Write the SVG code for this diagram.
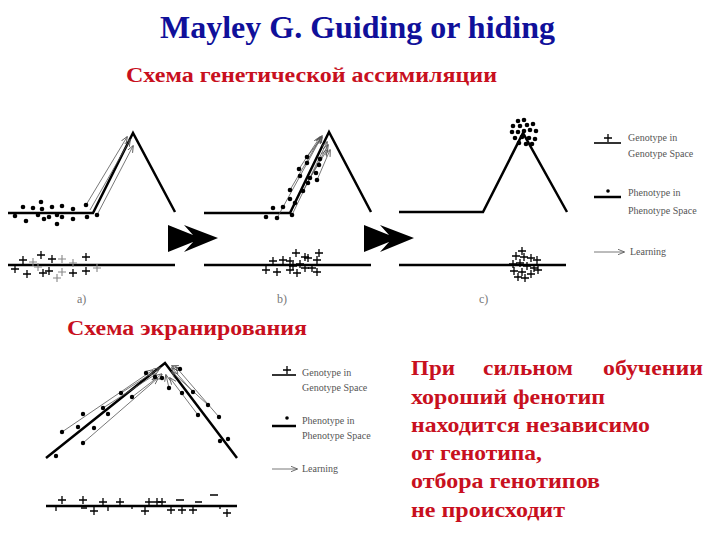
<svg xmlns="http://www.w3.org/2000/svg" width="720" height="540" viewBox="0 0 720 540">
<style>
.ttl{font-family:"Liberation Serif","Times New Roman",serif;font-weight:bold;fill:#10109a}
.red{font-family:"Liberation Serif","Times New Roman",serif;font-weight:bold;fill:#c8101e}
.lg{font-family:"Liberation Serif","Times New Roman",serif;font-size:10px;fill:#555}
.lbl{font-family:"Liberation Serif","Times New Roman",serif;font-size:12px;fill:#777}
.ln{stroke:#000;stroke-width:2.5;fill:none}
.tn{stroke:#000;stroke-width:1.6;fill:none}
.ar{stroke:#555;stroke-width:0.8;fill:none;marker-end:url(#ah)}
.pl{stroke:#000;stroke-width:1.3;fill:none}
.plg{stroke:#888;stroke-width:1.1;fill:none}
.dt{fill:#000}
</style>
<defs>
<marker id="ah" viewBox="0 0 10 10" refX="9" refY="5" markerWidth="7" markerHeight="7" markerUnits="userSpaceOnUse" orient="auto">
<path d="M0,1 L10,5 L0,9" fill="none" stroke="#555" stroke-width="1.2"/>
</marker>
<path id="p" d="M-4,0 H4 M0,-4 V4"/>
<polygon id="ff" points="0,0 25,10 16,0 50,13 16,27 25,17 0,27"/>
</defs>
<rect width="720" height="540" fill="#fff"/>

<g id="title"><text class="ttl" x="160" y="38" font-size="31" textLength="395" lengthAdjust="spacingAndGlyphs">Mayley G. Guiding or hiding</text></g>
<g id="heading1"><text class="red" x="126" y="82" font-size="20" textLength="371" lengthAdjust="spacingAndGlyphs">Схема генетической ассимиляции</text></g>
<g id="heading2"><text class="red" x="67" y="335" font-size="20" textLength="240" lengthAdjust="spacingAndGlyphs">Схема экранирования</text></g>

<g id="panel-a">
<path class="ln" d="M8,213 H93 L133,133 L175,212"/>
<path class="ln" d="M8,265 H175"/>
<path class="ar" d="M86,205 L127,137"/>
<path class="ar" d="M97,215 L133,146"/>
<path class="ar" d="M90,210 L130,140"/>
<g class="dt">
<circle cx="23" cy="207" r="2.3"/><circle cx="33" cy="208" r="2.3"/><circle cx="41" cy="202" r="2.3"/><circle cx="42" cy="209" r="2.3"/><circle cx="52" cy="207" r="2.3"/><circle cx="62" cy="206" r="2.3"/><circle cx="73" cy="209" r="2.3"/><circle cx="86" cy="205" r="2.3"/><circle cx="15" cy="216" r="2.3"/><circle cx="26" cy="221" r="2.3"/><circle cx="38" cy="215" r="2.3"/><circle cx="44" cy="219" r="2.3"/><circle cx="49" cy="217" r="2.3"/><circle cx="57" cy="215" r="2.3"/><circle cx="62" cy="217" r="2.3"/><circle cx="57" cy="224" r="2.3"/><circle cx="73" cy="219" r="2.3"/><circle cx="87" cy="217" r="2.3"/><circle cx="97" cy="215" r="2.3"/>
</g>
<g class="pl">
<use href="#p" x="23" y="260"/><use href="#p" x="41" y="255"/><use href="#p" x="52" y="259"/><use href="#p" x="86" y="257"/><use href="#p" x="15" y="269"/><use href="#p" x="27" y="274"/><use href="#p" x="49" y="271"/><use href="#p" x="43" y="273"/><use href="#p" x="73" y="273"/><use href="#p" x="86" y="271"/>
</g>
<g class="plg">
<use href="#p" x="33" y="262"/><use href="#p" x="62" y="259"/><use href="#p" x="73" y="263"/><use href="#p" x="38" y="267"/><use href="#p" x="57" y="278"/><use href="#p" x="62" y="272"/><use href="#p" x="97" y="268"/>
</g>
<text class="lbl" x="77" y="303">a)</text>
</g>

<g id="arrow-ab"><use href="#ff" x="168" y="225"/></g>

<g id="panel-b">
<path class="ln" d="M204,213 H290 L329,132 L371,212"/>
<path class="ln" d="M204,265 H371"/>
<path class="ar" d="M277,218 L322,136"/>
<path class="ar" d="M292,215 L327,142"/>
<path class="ar" d="M290,190 L321,137"/>
<path class="ar" d="M303,191 L328,145"/>
<path class="ar" d="M299,169 L320,137"/>
<path class="ar" d="M310,178 L327,150"/>
<path class="ar" d="M307,157 L322,137"/>
<path class="ar" d="M317,180 L330,150"/>
<g class="dt">
<circle cx="273" cy="208" r="2.3"/><circle cx="283" cy="207" r="2.3"/><circle cx="266" cy="217" r="2.3"/><circle cx="277" cy="218" r="2.3"/><circle cx="292" cy="215" r="2.3"/><circle cx="290" cy="199" r="2.3"/><circle cx="290" cy="190" r="2.3"/><circle cx="295" cy="203" r="2.3"/><circle cx="299" cy="169" r="2.3"/><circle cx="303" cy="191" r="2.3"/><circle cx="300" cy="176" r="2.3"/><circle cx="308" cy="183" r="2.3"/><circle cx="307" cy="163" r="2.3"/><circle cx="310" cy="178" r="2.3"/><circle cx="316" cy="173" r="2.3"/><circle cx="317" cy="180" r="2.3"/><circle cx="307" cy="157" r="2.3"/><circle cx="320" cy="159" r="2.3"/><circle cx="319" cy="165" r="2.3"/>
</g>
<g class="pl">
<use href="#p" x="273" y="261"/><use href="#p" x="283" y="260"/><use href="#p" x="290" y="261"/><use href="#p" x="296" y="253"/><use href="#p" x="305" y="257"/><use href="#p" x="308" y="258"/><use href="#p" x="319" y="253"/><use href="#p" x="317" y="260"/><use href="#p" x="266" y="270"/><use href="#p" x="277" y="272"/><use href="#p" x="290" y="270"/><use href="#p" x="297" y="273"/><use href="#p" x="305" y="268"/><use href="#p" x="312" y="268"/><use href="#p" x="317" y="272"/><use href="#p" x="300" y="264"/><use href="#p" x="293" y="266"/>
</g>
<text class="lbl" x="277" y="303">b)</text>
</g>

<g id="arrow-bc"><use href="#ff" x="364" y="225"/></g>

<g id="panel-c">
<path class="ln" d="M399,212 H483 L523,133 L567,212"/>
<path class="ln" d="M399,265 H566"/>
<g class="dt">
<circle cx="518" cy="121" r="2.3"/><circle cx="524" cy="120" r="2.3"/><circle cx="513" cy="126" r="2.3"/><circle cx="520" cy="126" r="2.3"/><circle cx="527" cy="125" r="2.3"/><circle cx="533" cy="124" r="2.3"/><circle cx="512" cy="132" r="2.3"/><circle cx="518" cy="132" r="2.3"/><circle cx="524" cy="131" r="2.3"/><circle cx="530" cy="130" r="2.3"/><circle cx="536" cy="131" r="2.3"/><circle cx="515" cy="138" r="2.3"/><circle cx="522" cy="137" r="2.3"/><circle cx="529" cy="138" r="2.3"/><circle cx="535" cy="139" r="2.3"/><circle cx="519" cy="143" r="2.3"/><circle cx="526" cy="144" r="2.3"/><circle cx="532" cy="144" r="2.3"/>
</g>
<g class="pl">
<use href="#p" x="522" y="251"/><use href="#p" x="516" y="256"/><use href="#p" x="524" y="257"/><use href="#p" x="531" y="258"/><use href="#p" x="537" y="260"/><use href="#p" x="513" y="264"/><use href="#p" x="520" y="263"/><use href="#p" x="527" y="266"/><use href="#p" x="534" y="268"/><use href="#p" x="514" y="271"/><use href="#p" x="522" y="272"/><use href="#p" x="531" y="274"/><use href="#p" x="518" y="277"/><use href="#p" x="525" y="278"/><use href="#p" x="538" y="270"/>
</g>
<text class="lbl" x="479" y="303">c)</text>
</g>

<g id="legend-top">
<path class="tn" d="M594,143 H621"/><use href="#p" x="608" y="138" class="pl"/>
<text class="lg" x="628" y="141">Genotype in</text>
<text class="lg" x="628" y="157">Genotype Space</text>
<path class="ln" d="M594,197 H621"/><circle cx="608" cy="191" r="1.8" class="dt"/>
<text class="lg" x="628" y="196">Phenotype in</text>
<text class="lg" x="628" y="214">Phenotype Space</text>
<path class="ar" d="M594,252 H624"/>
<text class="lg" x="630" y="255">Learning</text>
</g>

<g id="panel-hiding">
<path class="ln" d="M46,458 L165,363 L237,458"/>
<path class="ln" d="M46,506 H237" stroke-width="3"/>
<path class="ar" d="M62,432 L153,370"/>
<path class="ar" d="M83,443 L158,378"/>
<path class="ar" d="M103,408 L156,374"/>
<path class="ar" d="M121,393 L160,368"/>
<path class="ar" d="M132,397 L162,374"/>
<path class="ar" d="M180,369 L172,366"/>
<path class="ar" d="M193,392 L172,368"/>
<path class="ar" d="M198,415 L170,378"/>
<path class="ar" d="M219,417 L176,367"/>
<path class="ar" d="M208,405 L172,372"/>
<path class="ar" d="M169,388 L166,375"/>
<g class="dt">
<circle cx="62" cy="432" r="2.2"/><circle cx="83" cy="414" r="2.2"/><circle cx="78" cy="427" r="2.2"/><circle cx="94" cy="428" r="2.2"/><circle cx="83" cy="443" r="2.2"/><circle cx="103" cy="408" r="2.2"/><circle cx="108" cy="414" r="2.2"/><circle cx="121" cy="393" r="2.2"/><circle cx="132" cy="397" r="2.2"/><circle cx="146" cy="373" r="2.2"/><circle cx="155" cy="377" r="2.2"/><circle cx="56" cy="456" r="2.2"/><circle cx="180" cy="369" r="2.2"/><circle cx="162" cy="378" r="2.2"/><circle cx="169" cy="388" r="2.2"/><circle cx="193" cy="392" r="2.2"/><circle cx="182" cy="393" r="2.2"/><circle cx="208" cy="405" r="2.2"/><circle cx="198" cy="415" r="2.2"/><circle cx="219" cy="417" r="2.2"/><circle cx="220" cy="441" r="2.2"/><circle cx="228" cy="439" r="2.2"/>
</g>
<g class="pl">
<use href="#p" x="62" y="500"/><use href="#p" x="83" y="500"/><use href="#p" x="103" y="502"/><use href="#p" x="120" y="502"/><use href="#p" x="149" y="502"/><use href="#p" x="157" y="502"/><use href="#p" x="162" y="502"/><use href="#p" x="94" y="511"/><use href="#p" x="145" y="511"/><use href="#p" x="227" y="513"/><use href="#p" x="171" y="510"/><use href="#p" x="182" y="510"/><use href="#p" x="193" y="510"/>
<path d="M56,506 V511 M108,506 V511 M132,506 V509 M81,508 H87 M176,500 H184 M195,502 H202 M210,495 H218 M220,506 V509"/>
</g>
</g>

<g id="legend-bottom">
<path class="tn" d="M272,375 H296"/><use href="#p" x="287" y="370" class="pl"/>
<text class="lg" x="302" y="376">Genotype in</text>
<text class="lg" x="302" y="391">Genotype Space</text>
<path class="ln" d="M272,426 H296"/><circle cx="287" cy="418" r="1.8" class="dt"/>
<text class="lg" x="302" y="424">Phenotype in</text>
<text class="lg" x="302" y="439">Phenotype Space</text>
<path class="ar" d="M272,469 H297"/>
<text class="lg" x="302" y="472">Learning</text>
</g>

<g id="note" class="red" font-size="21">
<text x="411" y="375" textLength="44" lengthAdjust="spacingAndGlyphs">При</text>
<text x="483" y="375" textLength="90" lengthAdjust="spacingAndGlyphs">сильном</text>
<text x="603" y="375" textLength="100" lengthAdjust="spacingAndGlyphs">обучении</text>
<text x="411" y="404" textLength="194" lengthAdjust="spacingAndGlyphs">хороший фенотип</text>
<text x="411" y="432" textLength="239" lengthAdjust="spacingAndGlyphs">находится независимо</text>
<text x="411" y="460" textLength="131" lengthAdjust="spacingAndGlyphs">от генотипа,</text>
<text x="411" y="488" textLength="189" lengthAdjust="spacingAndGlyphs">отбора генотипов</text>
<text x="411" y="517" textLength="154" lengthAdjust="spacingAndGlyphs">не происходит</text>
</g>
</svg>
